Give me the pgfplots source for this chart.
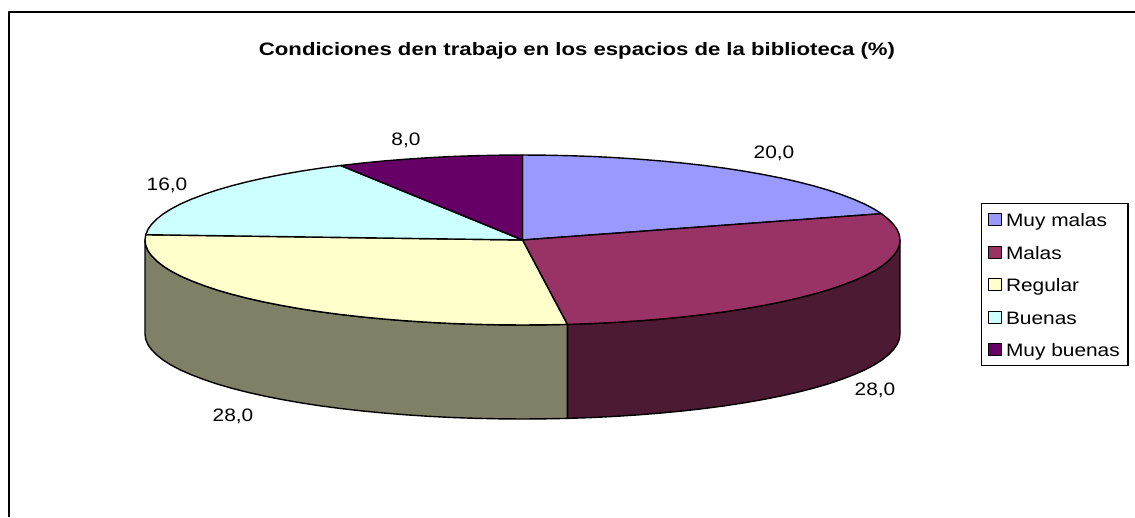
\documentclass[border=0pt]{standalone}
\usepackage{pgfplots}
\pgfplotsset{compat=1.18}
\usepackage{fontspec}
\setmainfont[FakeStretch=1.16]{Liberation Sans}
\newfontfamily\titlefont[FakeStretch=1.23]{Liberation Sans}
\definecolor{cA}{HTML}{9999FF}
\definecolor{cB}{HTML}{993366}
\definecolor{cC}{HTML}{FFFFCC}
\definecolor{cD}{HTML}{CCFFFF}
\definecolor{cE}{HTML}{660066}
\definecolor{wB}{HTML}{4D1A33}
\definecolor{wC}{HTML}{808066}
\begin{document}
\begin{tikzpicture}
\begin{axis}[
  at={(0,0)}, anchor=south west,
  scale only axis, width=1135pt, height=517pt,
  xmin=0, xmax=1135, ymin=0, ymax=517, y dir=reverse,
  hide axis, clip=true,
  legend style={at={(axis cs:981,203)}, anchor=north west, draw=black, line width=1.4pt,
    font=\fontsize{18}{20}\selectfont, inner xsep=6pt, inner ysep=5pt,
    /tikz/every even column/.style={column sep=0pt},
    nodes={text height=16pt, text depth=2pt},
    row sep=10.5pt},
  legend cell align=left,
  legend image code/.code={\draw[#1,line width=1.3pt] (0pt,-6pt) rectangle (13pt,6pt);\path (15pt,0pt);},
  every axis plot/.append style={draw=black, line width=1.4pt, line join=round},
]
\path (axis cs:0,0) (axis cs:1135,517);
% frame
\addplot[forget plot, draw=black, line width=1.8pt] coordinates {(9,517)(9,12)(1135,12)};
% walls
\addplot[forget plot, fill=wB] coordinates {
(900,240)(899.3,245.3)(897,250.7)(893.3,255.9)(888.1,261.1)(881.5,266.3)(873.5,271.3)(864.1,276.2)(853.3,280.9)(841.2,285.5)(827.9,290)(813.4,294.2)(797.7,298.2)(780.9,302)(763.1,305.5)(744.4,308.8)(724.8,311.8)(704.4,314.5)(683.2,316.9)(661.5,319)(639.2,320.8)(616.4,322.3)(593.2,323.5)(567.3,324.4)
(567.3,418.4)(593.2,417.5)(616.4,416.3)(639.2,414.8)(661.5,413)(683.2,410.9)(704.4,408.5)(724.8,405.8)(744.4,402.8)(763.1,399.5)(780.9,396)(797.7,392.2)(813.4,388.2)(827.9,384)(841.2,379.5)(853.3,374.9)(864.1,370.2)(873.5,365.3)(881.5,360.3)(888.1,355.1)(893.3,349.9)(897,344.7)(899.3,339.3)(900,334)
} -- cycle;
\addplot[forget plot, fill=wC] coordinates {
(567.3,324.4)(546.2,324.8)(522.5,325)(498.8,324.8)(475.2,324.3)(451.8,323.5)(428.6,322.3)(405.8,320.8)(383.5,319)(361.8,316.9)(340.6,314.5)(320.2,311.8)(300.6,308.8)(281.9,305.5)(264.1,302)(247.3,298.2)(231.6,294.2)(217.1,290)(203.8,285.5)(191.7,280.9)(180.9,276.2)(171.5,271.3)(163.5,266.3)(156.9,261.1)(151.7,255.9)(148,250.7)(145.7,245.3)(145,240)
(145,334)(145.7,339.3)(148,344.7)(151.7,349.9)(156.9,355.1)(163.5,360.3)(171.5,365.3)(180.9,370.2)(191.7,374.9)(203.8,379.5)(217.1,384)(231.6,388.2)(247.3,392.2)(264.1,396)(281.9,399.5)(300.6,402.8)(320.2,405.8)(340.6,408.5)(361.8,410.9)(383.5,413)(405.8,414.8)(428.6,416.3)(451.8,417.5)(475.2,418.3)(498.8,418.8)(522.5,419)(546.2,418.8)(567.3,418.4)
} -- cycle;
% top slices
\addplot[fill=cA] coordinates {
(522.5,240)(522.5,155)(546.2,155.2)(569.8,155.7)(593.2,156.5)(616.4,157.7)(639.2,159.2)(661.5,161)(683.2,163.1)(704.4,165.5)(724.8,168.2)(744.4,171.2)(763.1,174.5)(780.9,178)(797.7,181.8)(813.4,185.8)(827.9,190)(841.2,194.5)(853.3,199.1)(864.1,203.8)(873.5,208.7)(881.5,213.7)
} -- cycle;
\addlegendentry{Muy malas}
\addplot[fill=cB] coordinates {
(522.5,240)(881.5,213.7)(888.1,218.9)(893.3,224.1)(897,229.3)(899.3,234.7)(900,240)(899.3,245.3)(897,250.7)(893.3,255.9)(888.1,261.1)(881.5,266.3)(873.5,271.3)(864.1,276.2)(853.3,280.9)(841.2,285.5)(827.9,290)(813.4,294.2)(797.7,298.2)(780.9,302)(763.1,305.5)(744.4,308.8)(724.8,311.8)(704.4,314.5)(683.2,316.9)(661.5,319)(639.2,320.8)(616.4,322.3)(593.2,323.5)(567.3,324.4)
} -- cycle;
\addlegendentry{Malas}
\addplot[fill=cC] coordinates {
(522.5,240)(567.3,324.4)(546.2,324.8)(522.5,325)(498.8,324.8)(475.2,324.3)(451.8,323.5)(428.6,322.3)(405.8,320.8)(383.5,319)(361.8,316.9)(340.6,314.5)(320.2,311.8)(300.6,308.8)(281.9,305.5)(264.1,302)(247.3,298.2)(231.6,294.2)(217.1,290)(203.8,285.5)(191.7,280.9)(180.9,276.2)(171.5,271.3)(163.5,266.3)(156.9,261.1)(151.7,255.9)(148,250.7)(145.7,245.3)(145,240)(145.7,234.7)
} -- cycle;
\addlegendentry{Regular}
\addplot[fill=cD] coordinates {
(522.5,240)(145.7,234.7)(148,229.3)(151.7,224.1)(156.9,218.9)(163.5,213.7)(171.5,208.7)(180.9,203.8)(191.7,199.1)(203.8,194.5)(217.1,190)(231.6,185.8)(247.3,181.8)(264.1,178)(281.9,174.5)(300.6,171.2)(320.2,168.2)(340.6,165.5)
} -- cycle;
\addlegendentry{Buenas}
\addplot[fill=cE] coordinates {
(522.5,240)(340.6,165.5)(361.8,163.1)(383.5,161)(405.8,159.2)(428.6,157.7)(451.8,156.5)(475.2,155.7)(498.8,155.2)(522.5,155)
} -- cycle;
\addlegendentry{Muy buenas}
% texts
\node[font=\titlefont\bfseries\fontsize{18}{20}\selectfont, anchor=center] at (axis cs:577,51) {Condiciones den trabajo en los espacios de la biblioteca (\%)};
\node[font=\fontsize{18}{20}\selectfont] at (axis cs:774,153) {20,0};
\node[font=\fontsize{18}{20}\selectfont] at (axis cs:875,390) {28,0};
\node[font=\fontsize{18}{20}\selectfont] at (axis cs:233,416) {28,0};
\node[font=\fontsize{18}{20}\selectfont] at (axis cs:167,185) {16,0};
\node[font=\fontsize{18}{20}\selectfont] at (axis cs:406,140) {8,0};
\end{axis}
\end{tikzpicture}
\end{document}
